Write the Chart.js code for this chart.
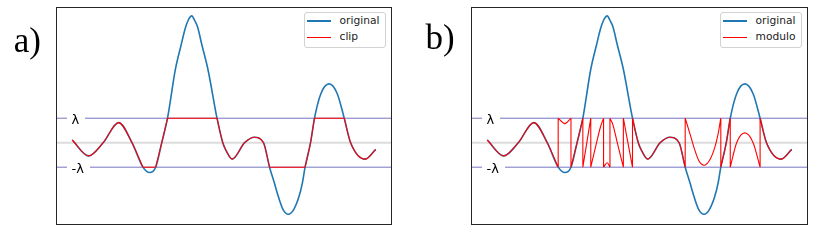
<!DOCTYPE html>
<html>
<head>
<meta charset="utf-8">
<script src="https://cdn.jsdelivr.net/npm/chart.js@4.4.1/dist/chart.umd.min.js"></script>
<style>
  html, body { margin: 0; padding: 0; background: #fff; }
  #page { position: relative; width: 829px; height: 240px; overflow: hidden; }
  .panel { position: absolute; top: 0; width: 414px; height: 240px; }
  .panel canvas { position: absolute; left: 0; top: 0; }
  .tag { position: absolute; font-family: 'Liberation Serif', 'DejaVu Serif', serif; font-size: 35px; line-height: 35px; color: #000; white-space: nowrap; }
  .lam { position: absolute; font-family: 'DejaVu Sans', sans-serif; font-size: 13px; line-height: 13px; background: #fff; padding: 0 6px 0 4.5px; color: #000; white-space: nowrap; }
  .legend { position: absolute; box-sizing: border-box; border: 1px solid #d2d2d2; border-radius: 3px; background: #fff; }
  .legend .swatch { position: absolute; left: 2.3px; width: 23.5px; }
  .legend .txt { position: absolute; left: 34.5px; font-family: 'DejaVu Sans', sans-serif; font-size: 10.7px; line-height: 12px; color: #222; white-space: nowrap; }
</style>
</head>
<body>
<div id="page">
  <div class="panel" id="panelA" style="left:0px"><canvas id="chartA" width="414" height="240"></canvas></div>
  <div class="panel" id="panelB" style="left:415px"><canvas id="chartB" width="414" height="240"></canvas></div>
  <div class="tag" style="left:13.7px; top:23.2px">a)</div>
  <div class="tag" style="left:425.4px; top:19.7px">b)</div>
</div>
<script>
// signal (lambda = 1)
const lambda = 1;
const timeSteps = [0, 5.4, 10.2, 15.3, 19.7, 23.3, 25.5, 27.5, 29.5, 31.4,
  34.0, 35.9, 37.2, 38.2, 39.4, 40.3, 41.3, 42.7, 44.7, 47.7,
  49.6, 50.6, 52.7, 56.8, 60.0, 63.0, 65.0, 66.6, 67.9, 69.5,
  71.2, 72.9, 74.7, 75.8, 76.7, 78.5, 79.8, 81.9, 84.6, 87.3,
  89.6, 91.7, 96.5, 100];
const originalValues = [0.11, -0.54, 0, 0.82, 0, -1, -1.22, -1, 0, 1,
  3, 4, 4.65, 5, 5.18, 5, 4.72, 4, 3, 1,
  0, -0.3, -0.67, 0, 0.22, 0, -1, -1.65, -2.2, -2.74,
  -2.92, -2.74, -2.2, -1.65, -1, 0, 1, 2, 2.4, 2,
  1, 0, -0.67, -0.27];

// clipped signal, one piece per smooth / flat stretch
const clipPieces = [
  [[0, 0.11], [5.4, -0.54], [10.2, 0], [15.3, 0.82], [19.7, 0], [23.3, -1]],
  [[23.3, -1], [27.5, -1]],
  [[27.5, -1], [29.5, 0], [31.4, 1]],
  [[31.4, 1], [47.7, 1]],
  [[47.7, 1], [49.6, 0], [50.6, -0.3], [52.7, -0.67], [56.8, 0], [60.0, 0.22], [63.0, 0], [65.0, -1]],
  [[65.0, -1], [76.7, -1]],
  [[76.7, -1], [78.5, 0], [79.8, 1]],
  [[79.8, 1], [89.6, 1]],
  [[89.6, 1], [91.7, 0], [96.5, -0.67], [100, -0.27]]
];

// wrapped (modulo) signal, one piece between each wrap
const moduloPieces = [
  [[0, 0.11], [5.4, -0.54], [10.2, 0], [15.3, 0.82], [19.7, 0], [23.3, -1]],
  [[23.3, 1], [25.5, 0.78], [27.5, 1]],
  [[27.5, -1], [29.5, 0], [31.4, 1]],
  [[31.4, -1], [34.0, 1]],
  [[34.0, -1], [35.9, 0], [37.2, 0.65], [38.2, 1]],
  [[38.2, -1], [39.4, -0.82], [40.3, -1]],
  [[40.3, 1], [41.3, 0.72], [42.7, 0], [44.7, -1]],
  [[44.7, 1], [47.7, -1]],
  [[47.7, 1], [49.6, 0], [50.6, -0.3], [52.7, -0.67], [56.8, 0], [60.0, 0.22], [63.0, 0], [65.0, -1]],
  [[65.0, 1], [66.6, 0.35], [67.9, -0.2], [69.5, -0.74], [71.2, -0.92], [72.9, -0.74], [74.7, -0.2], [75.8, 0.35], [76.7, 1]],
  [[76.7, -1], [78.5, 0], [79.8, 1]],
  [[79.8, -1], [81.9, 0], [84.6, 0.4], [87.3, 0], [89.6, -1]],
  [[89.6, 1], [91.7, 0], [96.5, -0.67], [100, -0.27]]
];

// pieces -> one point list, broken by nulls, with the vertical wrap jumps in between
function piecesToPoints(pieces) {
  const pts = [];
  pieces.forEach((piece, i) => {
    if (i > 0) {
      const prev = pieces[i - 1][pieces[i - 1].length - 1];
      pts.push({ x: prev[0], y: null });
      if (prev[1] !== piece[0][1]) {
        pts.push({ x: prev[0], y: prev[1] }, { x: piece[0][0], y: piece[0][1] }, { x: piece[0][0], y: null });
      }
    }
    piece.forEach(([x, y]) => pts.push({ x: x, y: y }));
  });
  return pts;
}

const frame = {
  id: 'frame',
  afterDraw(chart) {
    const { ctx, chartArea: a } = chart;
    ctx.save();
    ctx.strokeStyle = '#262626';
    ctx.lineWidth = 1;
    ctx.strokeRect(a.left - 0.5, a.top - 0.5, a.right - a.left + 1, a.bottom - a.top + 1);
    ctx.restore();
  }
};

function makePanel(canvasId, panelId, redLabel, redPieces, padRight) {
  const xMin = -5, xMax = 105;
  const hLine = (v) => [{ x: xMin, y: v }, { x: xMax, y: v }];
  const original = timeSteps.map((t, i) => ({ x: t, y: originalValues[i] }));

  const chart = new Chart(document.getElementById(canvasId), {
    type: 'line',
    data: {
      datasets: [
        { label: redLabel, data: piecesToPoints(redPieces), borderColor: '#ff0000', borderWidth: 1.1,
          cubicInterpolationMode: 'monotone', order: 0 },
        { label: 'original', data: original, borderColor: '#1f77b4', borderWidth: 1.6,
          cubicInterpolationMode: 'monotone', order: 1 },
        { label: 'lambda', data: hLine(lambda), borderColor: '#7474c2', borderWidth: 1, order: 2 },
        { label: '-lambda', data: hLine(-lambda), borderColor: '#7474c2', borderWidth: 1, order: 2 },
        { label: 'zero', data: hLine(0), borderColor: '#dcdcdc', borderWidth: 2, order: 3 }
      ]
    },
    options: {
      responsive: false,
      animation: false,
      events: [],
      elements: { point: { radius: 0 }, line: { fill: false } },
      layout: { padding: { left: 57, top: 8, right: padRight, bottom: 16 } },
      scales: {
        x: { type: 'linear', min: xMin, max: xMax, display: false },
        y: { type: 'linear', min: -3.32, max: 5.5, display: false }
      },
      plugins: { legend: { display: false }, tooltip: { enabled: false } }
    },
    plugins: [frame]
  });

  // lambda labels and html legend placed from the chart's own scales
  const panel = document.getElementById(panelId);
  const area = chart.chartArea;
  [[lambda, 'λ'], [-lambda, '-λ']].forEach(([v, txt]) => {
    const el = document.createElement('div');
    el.className = 'lam';
    el.textContent = txt;
    el.style.left = (area.left + 14.5 - 4.5) + 'px';
    el.style.top = (chart.scales.y.getPixelForValue(v) + 5.7 - 11) + 'px';
    panel.appendChild(el);
  });

  const box = document.createElement('div');
  box.className = 'legend';
  box.style.left = (area.right - 87) + 'px';
  box.style.top = (area.top + 4) + 'px';
  box.style.width = '82px';
  box.style.height = '36px';
  ['original', redLabel].forEach((name, row) => {
    const ds = chart.data.datasets.find(d => d.label === name);
    const sw = document.createElement('div');
    sw.className = 'swatch';
    sw.style.top = (7.7 + row * 16.6 - ds.borderWidth / 2) + 'px';
    sw.style.height = (ds.borderWidth + 0.4) + 'px';
    sw.style.background = ds.borderColor;
    const tx = document.createElement('div');
    tx.className = 'txt';
    tx.style.top = (1.6 + row * 16.4) + 'px';
    tx.textContent = name;
    box.appendChild(sw);
    box.appendChild(tx);
  });
  panel.appendChild(box);
  return chart;
}

makePanel('chartA', 'panelA', 'clip', clipPieces, 23);
makePanel('chartB', 'panelB', 'modulo', moduloPieces, 22);
</script>
</body>
</html>
